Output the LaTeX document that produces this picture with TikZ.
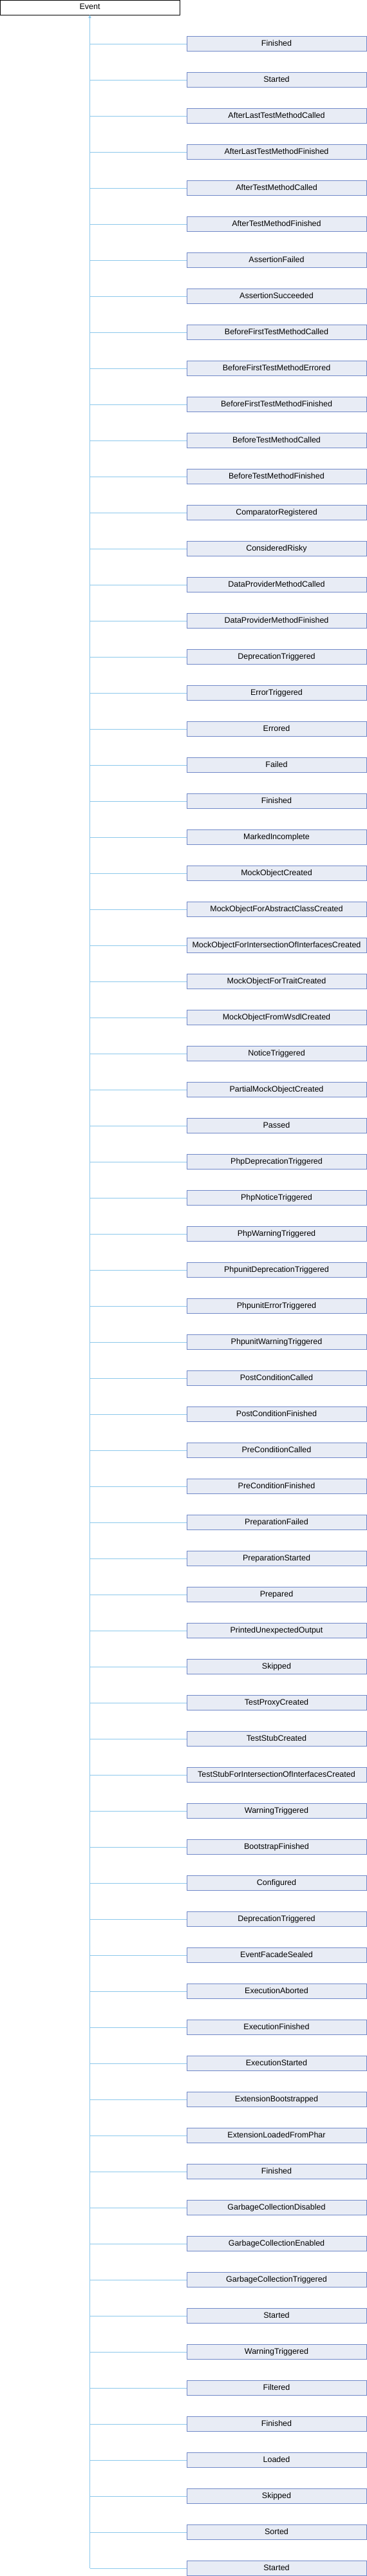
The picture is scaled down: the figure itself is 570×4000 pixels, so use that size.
\documentclass[tikz,border=0pt]{standalone}
\usepackage{fontspec}
\setmainfont{Liberation Sans}
\usetikzlibrary{arrows.meta, positioning}
\definecolor{boxfill}{RGB}{232,236,245}
\definecolor{boxline}{RGB}{112,136,200}
\definecolor{linkblue}{RGB}{140,200,235}
\tikzset{
    base/.style={rectangle, minimum width=279pt, minimum height=23pt, inner sep=0pt,
        outer sep=0pt, line width=1pt, font=\fontsize{12.5}{15}\selectfont,
        text height=9pt, text depth=2.5pt},
    cls/.style={base, draw=boxline, fill=boxfill},
    branch/.style={draw=linkblue, line width=1pt},
    trunk/.style={branch, {Triangle[width=4pt,length=5pt]}-}
}
\begin{document}
\begin{tikzpicture}[x=1pt, y=1pt, node distance=33pt]
                \useasboundingbox (0,0) rectangle (570,-4000);
                \node[base, draw=black, fill=white] (ev) at (139.5,-11.5) {Event};
                \node[cls] (c1) at (429.5,-68) {Finished};
                \foreach \lbl [count=\i from 2, remember=\i as \j (initially 1)] in {
                    Started, AfterLastTestMethodCalled, AfterLastTestMethodFinished,
                    AfterTestMethodCalled, AfterTestMethodFinished, AssertionFailed,
                    AssertionSucceeded, BeforeFirstTestMethodCalled, BeforeFirstTestMethodErrored,
                    BeforeFirstTestMethodFinished, BeforeTestMethodCalled, BeforeTestMethodFinished,
                    ComparatorRegistered, ConsideredRisky, DataProviderMethodCalled,
                    DataProviderMethodFinished, DeprecationTriggered, ErrorTriggered,
                    Errored, Failed, Finished, MarkedIncomplete, MockObjectCreated,
                    MockObjectForAbstractClassCreated, MockObjectForIntersectionOfInterfacesCreated,
                    MockObjectForTraitCreated, MockObjectFromWsdlCreated, NoticeTriggered,
                    PartialMockObjectCreated, Passed, PhpDeprecationTriggered,
                    PhpNoticeTriggered, PhpWarningTriggered, PhpunitDeprecationTriggered,
                    PhpunitErrorTriggered, PhpunitWarningTriggered, PostConditionCalled,
                    PostConditionFinished, PreConditionCalled, PreConditionFinished,
                    PreparationFailed, PreparationStarted, Prepared, PrintedUnexpectedOutput,
                    Skipped, TestProxyCreated, TestStubCreated,
                    TestStubForIntersectionOfInterfacesCreated, WarningTriggered,
                    BootstrapFinished, Configured, DeprecationTriggered, EventFacadeSealed,
                    ExecutionAborted, ExecutionFinished, ExecutionStarted,
                    ExtensionBootstrapped, ExtensionLoadedFromPhar, Finished,
                    GarbageCollectionDisabled, GarbageCollectionEnabled,
                    GarbageCollectionTriggered, Started, WarningTriggered,
                    Filtered, Finished, Loaded, Skipped, Sorted, Started}
                    \node[cls, below=of c\j] (c\i) {\lbl};
                \draw[trunk] (ev.south) -- (c71.west -| ev.south);
                \foreach \i in {1,...,71}
                    \draw[branch] (c\i.west) -- (c\i.west -| ev.south);
            \end{tikzpicture}
\end{document}
